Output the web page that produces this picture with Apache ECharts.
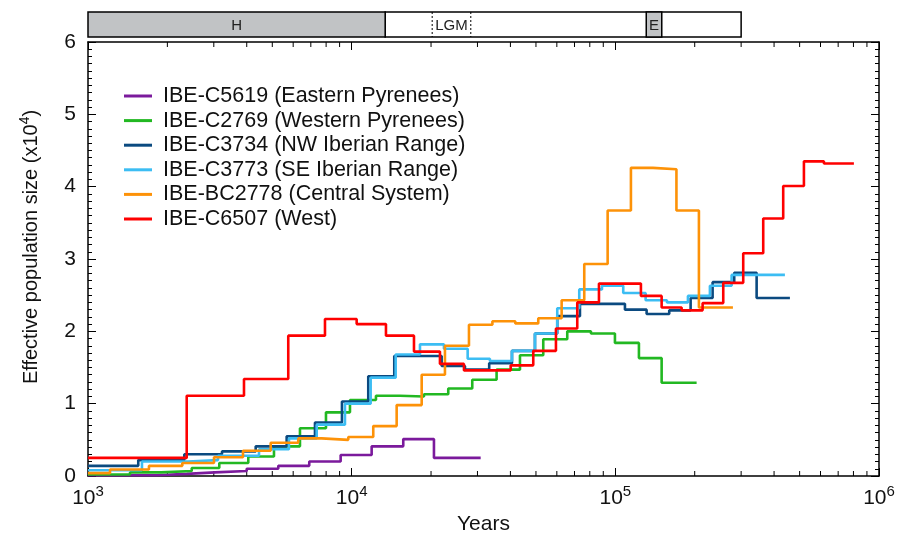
<!DOCTYPE html>
<html>
<head>
<meta charset="utf-8">
<title>PSMC Iberian samples</title>
<script src="https://cdn.jsdelivr.net/npm/echarts@6/dist/echarts.min.js"></script>
<style>
html, body { margin: 0; padding: 0; background: #fff; }
#chart { width: 908px; height: 533px; }
</style>
</head>
<body>
<div id="chart"></div>
<script>
// step data: value ne[i] holds from years[i] to years[i+1]
var c5619Years = [1000, 1822, 2368, 3032, 3998, 5268, 6905, 9083, 11907, 15692, 20516, 30852];
var c5619Ne = [0.01, 0.03, 0.05, 0.07, 0.10, 0.14, 0.20, 0.29, 0.41, 0.51, 0.25];

var c2769Years = [1000, 1443, 1892, 2474, 3147, 4054, 5074, 6367, 7990, 9853, 12363, 15246, 18804, 23245, 28666, 35453, 43483, 53289, 65712, 80816, 99653, 122880, 149840, 203370];
var c2769Ne = [0.02, 0.05, 0.07, 0.11, 0.18, 0.27, 0.41, 0.66, 0.88, 1.05, 1.11, 1.10, 1.13, 1.21, 1.33, 1.47, 1.67, 1.89, 2.00, 1.97, 1.84, 1.63, 1.29];

var c3734Years = [1000, 1551, 2319, 3222, 4325, 5668, 7258, 9187, 11559, 14506, 21943, 26898, 33236, 40549, 49564, 60215, 73423, 108750, 131420, 160120, 193000, 233850, 282430, 343460, 459300];
var c3734Ne = [0.14, 0.22, 0.30, 0.34, 0.41, 0.55, 0.74, 1.03, 1.38, 1.66, 1.52, 1.47, 1.56, 1.73, 1.97, 2.21, 2.38, 2.30, 2.24, 2.29, 2.46, 2.68, 2.81, 2.46];

var c3773Years = [1000, 1602, 2395, 3112, 4452, 5783, 7367, 9431, 11804, 14684, 18159, 22388, 27539, 33440, 40549, 49564, 60215, 72975, 88976, 107150, 130280, 156940, 188510, 228400, 276090, 439680];
var c3773Ne = [0.08, 0.20, 0.22, 0.28, 0.37, 0.52, 0.71, 1.00, 1.36, 1.68, 1.82, 1.76, 1.62, 1.59, 1.73, 1.97, 2.32, 2.58, 2.63, 2.53, 2.43, 2.40, 2.49, 2.63, 2.78];

var bc2778Years = [1000, 1212, 1703, 2279, 3005, 3871, 4930, 6273, 7696, 9708, 12075, 14813, 18430, 22585, 27853, 34178, 41734, 51013, 62573, 76233, 93503, 114590, 138860, 170500, 207490, 279240];
var bc2778Ne = [0.04, 0.09, 0.14, 0.18, 0.26, 0.35, 0.46, 0.52, 0.50, 0.54, 0.69, 0.98, 1.40, 1.80, 2.09, 2.14, 2.11, 2.18, 2.43, 2.93, 3.67, 4.26, 4.24, 3.67, 2.33];

var c6507Years = [1000, 2368, 3905, 5748, 7921, 10446, 13492, 17232, 21619, 26664, 40092, 48834, 59535, 71712, 86673, 125040, 149840, 178420, 214300, 256620, 305520, 363830, 433200, 519100, 618100, 803100];
var c6507Ne = [0.25, 1.11, 1.34, 1.94, 2.17, 2.10, 1.94, 1.72, 1.55, 1.46, 1.53, 1.73, 2.04, 2.40, 2.66, 2.49, 2.33, 2.29, 2.39, 2.67, 3.08, 3.56, 4.01, 4.35, 4.32];

var sampleNames = [
    'IBE-C5619 (Eastern Pyrenees)',
    'IBE-C2769 (Western Pyrenees)',
    'IBE-C3734 (NW Iberian Range)',
    'IBE-C3773 (SE Iberian Range)',
    'IBE-BC2778 (Central System)',
    'IBE-C6507 (West)'
];
var sampleYears = [c5619Years, c2769Years, c3734Years, c3773Years, bc2778Years, c6507Years];
var sampleNe = [c5619Ne, c2769Ne, c3734Ne, c3773Ne, bc2778Ne, c6507Ne];
var sampleColors = ['#7b1a9c', '#22b822', '#0b4a80', '#3cbdf3', '#fd9208', '#fe0000'];

// log minor ticks on the years axis
var minorYears = [2000, 3000, 4000, 5000, 6000, 7000, 8000, 9000,
    20000, 30000, 40000, 50000, 60000, 70000, 80000, 90000,
    200000, 300000, 400000, 500000, 600000, 700000, 800000, 900000];

// climate periods in the bar above the plot
var periodNames = ['', 'H', 'LGM', 'E'];
var periodStart = [13400, 1000, 20200, 131000];
var periodEnd = [300000, 13400, 28300, 150000];

var FONT = '"Liberation Sans", Arial, Helvetica, sans-serif';

var toSteps = function(years, ne){
    var pts = [];
    for (var i = 0; i < ne.length; i++) {
        pts.push([years[i], ne[i]]);
    }
    pts.push([years[years.length - 1], ne[ne.length - 1]]);
    return pts;
};

var series = [];
for (var s = 0; s < sampleNames.length; s++) {
    series.push({
        name: sampleNames[s],
        type: 'line',
        xAxisIndex: 0,
        yAxisIndex: 0,
        step: 'end',
        symbol: 'none',
        showSymbol: false,
        color: sampleColors[s],
        lineStyle: { width: 2.6, color: sampleColors[s] },
        emphasis: { disabled: true },
        data: toSteps(sampleYears[s], sampleNe[s])
    });
}

// minor ticks, bottom and top frame
series.push({
    type: 'custom',
    xAxisIndex: 0,
    yAxisIndex: 0,
    silent: true,
    clip: false,
    encode: { x: 0 },
    data: minorYears.map(function(v){ return [v]; }),
    renderItem: function(params, api){
        var b = api.coord([api.value(0), 0]);
        var t = api.coord([api.value(0), 6]);
        return {
            type: 'group',
            children: [
                { type: 'line', shape: { x1: b[0], y1: b[1], x2: b[0], y2: b[1] - 5 }, style: { stroke: '#000', lineWidth: 1 } },
                { type: 'line', shape: { x1: t[0], y1: t[1], x2: t[0], y2: t[1] + 5 }, style: { stroke: '#000', lineWidth: 1 } }
            ]
        };
    }
});

// period bar
series.push({
    type: 'custom',
    xAxisIndex: 2,
    yAxisIndex: 2,
    silent: true,
    clip: false,
    encode: { x: [0, 1] },
    data: periodStart.map(function(v, i){ return [v, periodEnd[i]]; }),
    renderItem: function(params, api){
        var name = periodNames[params.dataIndex];
        var p0 = api.coord([api.value(0), 1]);
        var p1 = api.coord([api.value(1), 0]);
        var x = p0[0], y = p0[1], w = p1[0] - p0[0], h = p1[1] - p0[1];
        var label = {
            type: 'text',
            z2: 10,
            style: {
                text: name, x: x + w / 2, y: y + h / 2 + 1,
                align: 'center', verticalAlign: 'middle',
                fontSize: 15, fontFamily: FONT, fill: '#222'
            }
        };
        if (name === 'LGM') {
            return {
                type: 'group',
                children: [
                    { type: 'line', shape: { x1: x, y1: y, x2: x, y2: y + h }, style: { stroke: '#000', lineWidth: 1, lineDash: [2, 2] } },
                    { type: 'line', shape: { x1: x + w, y1: y, x2: x + w, y2: y + h }, style: { stroke: '#000', lineWidth: 1, lineDash: [2, 2] } },
                    label
                ]
            };
        }
        return {
            type: 'group',
            children: [
                { type: 'rect', shape: { x: x, y: y, width: w, height: h }, style: { fill: name ? '#c1c3c5' : '#fff', stroke: '#000', lineWidth: 1.5 } },
                label
            ]
        };
    }
});

var axisBase = {
    axisLine: { show: true, onZero: false, lineStyle: { color: '#000', width: 1.5 } },
    axisTick: { show: true, inside: true, length: 8, lineStyle: { color: '#000', width: 1 } },
    splitLine: { show: false }
};

var xLabelRich = {
    b: { fontSize: 21, fontFamily: FONT, color: '#111' },
    sup: { fontSize: 15, fontFamily: FONT, color: '#111', padding: [0, 0, 14, 0] }
};

var option = {
    animation: false,
    backgroundColor: '#fff',
    grid: [
        { left: 88, right: 29, top: 42, bottom: 57, outerBoundsMode: 'none' },
        { left: 88, right: 29, top: 12, height: 25, outerBoundsMode: 'none' }
    ],
    legend: {
        orient: 'vertical',
        left: 124,
        top: 85,
        padding: 0,
        icon: 'rect',
        itemWidth: 28,
        itemHeight: 3,
        itemGap: 2.6,
        selectedMode: false,
        textStyle: { fontSize: 21.5, fontFamily: FONT, color: '#111', lineHeight: 22, padding: [0, 0, 0, 6] },
        data: sampleNames
    },
    xAxis: [
        Object.assign({}, axisBase, {
            type: 'log', logBase: 10, min: 1000, max: 1000000, splitNumber: 3,
            gridIndex: 0, position: 'bottom',
            name: 'Years', nameLocation: 'middle', nameGap: 36,
            nameTextStyle: { fontSize: 21, fontFamily: FONT, color: '#111' },
            axisLabel: {
                margin: 8,
                formatter: function(v){ return '{b|10}{sup|' + Math.round(Math.log10(v)) + '}'; },
                rich: xLabelRich
            }
        }),
        Object.assign({}, axisBase, {
            type: 'log', logBase: 10, min: 1000, max: 1000000, splitNumber: 3,
            gridIndex: 0, position: 'top',
            axisLabel: { show: false }
        }),
        { type: 'log', logBase: 10, min: 1000, max: 1000000, gridIndex: 1, show: false }
    ],
    yAxis: [
        Object.assign({}, axisBase, {
            type: 'value', min: 0, max: 6, interval: 1, gridIndex: 0, position: 'left',
            minorTick: { show: true, splitNumber: 10, length: 4, lineStyle: { color: '#000', width: 1 } },
            minorSplitLine: { show: false },
            name: 'Effective population size (x10{sup|4})',
            nameLocation: 'middle', nameGap: 44,
            nameTextStyle: {
                fontSize: 20, fontFamily: FONT, color: '#111',
                padding: [0, 0, 0, 24],
                rich: { sup: { fontSize: 14, fontFamily: FONT, color: '#111', padding: [0, 0, 12, 0] } }
            },
            axisLabel: { fontSize: 21, fontFamily: FONT, color: '#111', margin: 12 }
        }),
        Object.assign({}, axisBase, {
            type: 'value', min: 0, max: 6, interval: 1, gridIndex: 0, position: 'right',
            minorTick: { show: true, splitNumber: 10, length: 4, lineStyle: { color: '#000', width: 1 } },
            minorSplitLine: { show: false },
            axisLabel: { show: false }
        }),
        { type: 'value', min: 0, max: 1, gridIndex: 1, show: false }
    ],
    series: series
};

var chart = echarts.init(document.getElementById('chart'));
chart.setOption(option);
</script>
</body>
</html>
